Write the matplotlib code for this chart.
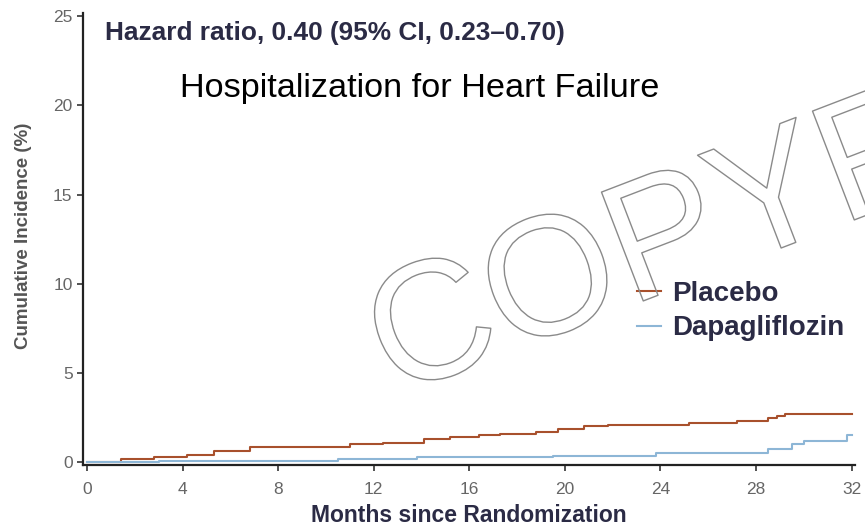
import matplotlib.pyplot as plt
import matplotlib.patheffects as pe

# step-curve data (months, cumulative incidence %)
placebo_t = [0, 1.4, 2.8, 4.2, 5.3, 6.8, 11.0, 12.4, 14.1, 15.2, 16.4, 17.3, 18.8, 19.7, 20.8, 21.8, 25.2, 27.2, 28.5, 28.9, 29.2, 32]
placebo_y = [0, 0.17, 0.3, 0.4, 0.6, 0.85, 1.0, 1.1, 1.3, 1.4, 1.5, 1.6, 1.7, 1.85, 2.0, 2.1, 2.2, 2.3, 2.45, 2.6, 2.7, 2.7]

dapa_t = [0, 3.0, 10.5, 13.8, 19.5, 23.8, 28.5, 29.5, 30.0, 31.8, 32]
dapa_y = [0, 0.08, 0.18, 0.28, 0.35, 0.5, 0.75, 1.0, 1.2, 1.5, 1.5]

x_ticks = [0, 4, 8, 12, 16, 20, 24, 28, 32]
y_ticks = [0, 5, 10, 15, 20, 25]

navy = '#2b2b45'
plt.rcParams['font.family'] = ['Liberation Sans', 'DejaVu Sans']

fig = plt.figure(figsize=(8.65, 5.31), dpi=100)
ax = fig.add_axes([0.096, 0.124, 0.892, 0.852])

ax.step(placebo_t, placebo_y, where='post', color='#a8502c', lw=1.5, label='Placebo')
ax.step(dapa_t, dapa_y, where='post', color='#8db6d6', lw=1.5, label='Dapagliflozin')

ax.set_xlim(-0.17, 32.13)
ax.set_ylim(-0.17, 25.2)
ax.set_xticks(x_ticks)
ax.set_yticks(y_ticks)
ax.tick_params(direction='out', length=4, width=1.2, colors='#333333',
               labelcolor='#666666', labelsize=12.5)
ax.tick_params(axis='x', pad=8)
for s in ['top', 'right']:
    ax.spines[s].set_visible(False)
for s in ['left', 'bottom']:
    ax.spines[s].set_linewidth(1.6)
    ax.spines[s].set_color('#222222')

# axis labels placed directly in figure coordinates
fig.text(469 / 865, 1 - 515 / 531, 'Months since Randomization', ha='center', va='center',
         fontsize=16.5, fontweight='bold', color=navy)
fig.text(0.027, 0.555, 'Cumulative Incidence (%)', rotation=90, ha='center', va='center',
         fontsize=13.5, fontweight='bold', color='#555555')

fig.text(0.121, 0.938, 'Hazard ratio, 0.40 (95% CI, 0.23\u20130.70)', fontsize=18.9,
         fontweight='bold', color=navy, ha='left', va='center')
fig.text(0.208, 0.834, 'Hospitalization for Heart Failure', fontsize=24.7,
         color='black', ha='left', va='center')

ax.legend(loc='upper left', bbox_to_anchor=(637 / 865, 1 - 281 / 531),
          bbox_transform=fig.transFigure, frameon=False, borderpad=0, borderaxespad=0,
          handlelength=0.85, handletextpad=0.4, labelspacing=0.3,
          prop={'weight': 'bold', 'size': 20}, labelcolor=navy)

# outlined watermark
fig.text(393 / 865, 1 - 397 / 531, 'COPYRIGHT', fontsize=122, rotation=21, rotation_mode='anchor',
         ha='left', va='baseline', color='none',
         path_effects=[pe.withStroke(linewidth=1.0, foreground='#8a8a8a')])

plt.savefig('out.png', dpi=100)
